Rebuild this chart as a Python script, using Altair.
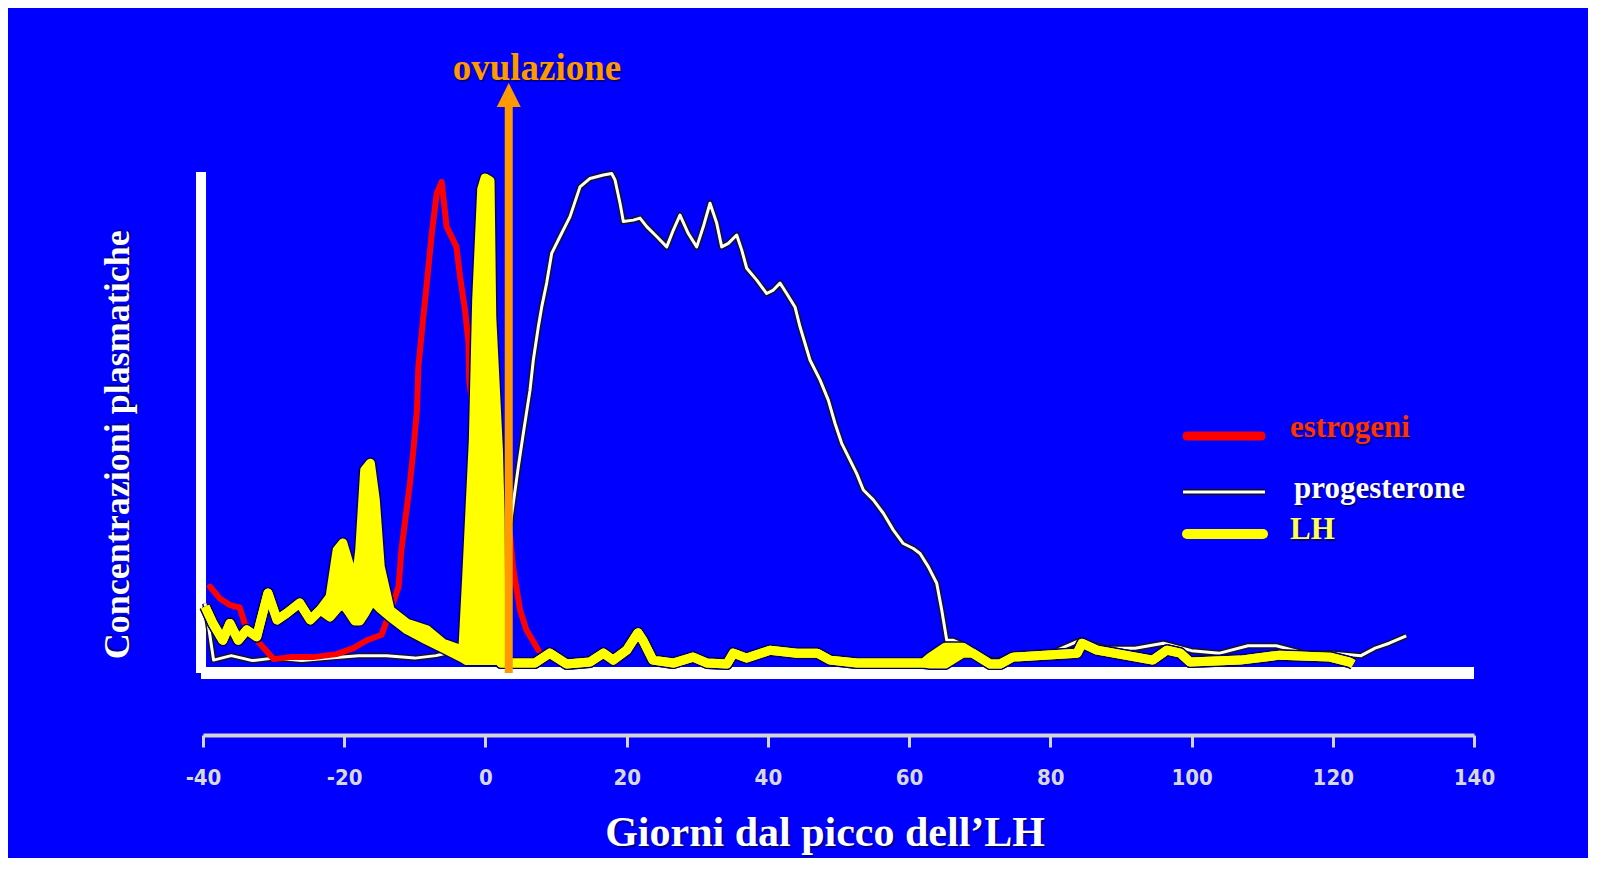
import altair as alt
import pandas as pd

# ---------------- data ----------------
x_ticks = [-40, -20, 0, 20, 40, 60, 80, 100, 120, 140]

est_day = [-39.0, -37.6, -36.2, -34.8, -34.1, -32.0, -30.0, -27.7, -24.4, -21.1,
           -18.7, -16.8, -14.7, -12.3, -11.9, -10.7, -10.2, -9.7, -9.5, -8.8,
           -8.3, -7.6, -6.9, -6.2, -5.5, -4.1, -3.6, -2.9, -2.4, -2.3,
           -1.8, 1.0, 2.5, 3.5, 3.9, 4.9, 5.8, 7.5]
est_val = [16.4, 14.0, 12.7, 12.2, 9.0, 5.0, 1.8, 2.2, 2.2, 2.8,
           4.0, 5.6, 6.7, 16.4, 23.8, 37.2, 44.0, 52.0, 60.7, 70.8,
           77.6, 87.6, 95.7, 98.0, 89.0, 84.9, 78.9, 72.2, 65.5, 58.1,
           52.0, 40.0, 32.5, 26.5, 20.4, 11.7, 7.7, 3.6]

prog_day = [-39.7, -38.5, -36, -33, -30, -26, -22, -18, -14, -10,
            -7, -4, -2, -0.8, 0.2, 2.06, 3.48, 4.66, 5.36, 6.31,
            6.78, 7.49, 7.97, 8.67, 9.38, 10.56, 11.98, 13.39, 14.81, 16.7,
            17.88, 18.35, 19.06, 19.53, 20.94, 21.89, 22.84, 24.25, 25.67, 26.61,
            27.55, 28.73, 29.92, 30.86, 31.8, 32.75, 33.46, 34.4, 35.58, 36.29,
            37.0, 38.42, 39.83, 40.77, 41.72, 42.66, 43.84, 44.55, 45.96, 47.38,
            48.56, 49.51, 50.45, 51.63, 52.58, 53.52, 54.93, 56.35, 57.77, 59.18,
            60.6, 61.55, 62.73, 63.91, 64.62, 65.33, 66.26, 68, 70, 72,
            76, 80, 84, 88, 92, 96, 100, 104, 108, 112,
            116, 120, 124, 126, 128, 130.4]
prog_val = [13.0, 1.6, 2.5, 1.5, 2.0, 1.5, 2.0, 2.5, 2.5, 2.0,
            2.5, 3.5, 5.0, 8.3, 13.7, 21.8, 28.5, 40.6, 47.3, 56.0,
            62.1, 68.8, 72.8, 77.6, 83.6, 87.0, 91.0, 97.0, 98.7, 99.4,
            99.7, 98.4, 93.7, 90.0, 90.3, 90.7, 89.0, 87.0, 84.9, 88.3,
            91.3, 87.6, 84.9, 89.0, 93.7, 89.7, 84.9, 85.6, 87.3, 84.3,
            80.6, 78.2, 75.5, 76.2, 77.6, 75.5, 72.8, 68.8, 62.1, 58.1,
            54.0, 49.3, 45.3, 41.9, 39.2, 35.9, 33.9, 31.2, 27.8, 25.1,
            24.1, 23.1, 20.4, 17.1, 11.7, 5.6, 5.6, 4.5, 2.5, 1.5,
            2.5, 3.0, 5.5, 4.0, 4.0, 5.0, 3.5, 3.0, 4.5, 4.5,
            3.0, 3.0, 2.5, 4.0, 5.0, 6.5]

lh_day = [-39.7, -38.6, -37.2, -36.2, -35.0, -33.8, -32.4, -30.8, -29.5, -28.1,
          -26.3, -24.8, -23.4, -22.0, -21.0, -20.2, -19.2, -18.5, -17.8, -17.1,
          -16.3, -15.6, -14.9, -13.5, -11.1, -8.3, -6.0, -3.2, -2.65, -1.71,
          -1.24, -0.53, -0.06, 0.65, 0.89, 1.84, 2.08, 2.2, 5.0, 7.0,
          9.1, 11.5, 14.8, 16.7, 18.1, 20.0, 21.6, 22.3, 23.7, 26.6,
          29.4, 31.4, 34.2, 35.1, 37.0, 40.3, 44.1, 47.0, 48.8, 52.6,
          58.3, 62.0, 63.0, 65.1, 67.6, 69.0, 71.5, 72.9, 74.7, 83.8,
          84.5, 86.6, 94.5, 96.5, 98.4, 99.8, 106.9, 112.5, 119.6, 122.4,
          122.9]
lh_hi = [12.4, 9.0, 5.6, 9.0, 5.6, 7.7, 6.3, 15.1, 9.7, 11.1,
         13.1, 9.7, 11.7, 14.4, 23.8, 25.2, 20.4, 15.1, 23.8, 39.9,
         41.3, 33.9, 20.4, 11.7, 9.0, 7.7, 5.0, 3.6, 18.4, 46.0,
         74.2, 96.5, 98.8, 98.2, 70.8, 43.9, 30.5, 1.0, 1.0, 1.0,
         3.0, 0.8, 1.2, 3.0, 1.6, 3.6, 7.1, 5.6, 1.6, 1.0,
         2.2, 1.0, 0.8, 3.0, 2.0, 3.6, 3.0, 3.0, 1.6, 1.0,
         1.0, 1.0, 2.2, 4.2, 4.2, 3.0, 0.8, 0.8, 2.2, 3.0,
         5.0, 3.6, 1.6, 3.6, 3.0, 1.2, 1.6, 2.6, 2.2, 1.2,
         0.8]
lh_lo = [12.4, 9.0, 5.6, 9.0, 5.6, 7.7, 6.3, 15.1, 9.7, 11.1,
         13.1, 9.7, 11.7, 10.3, 12.0, 13.0, 11.0, 9.5, 9.5, 11.0,
         13.0, 13.0, 12.0, 10.3, 7.7, 5.6, 4.0, 2.0, 1.5, 1.5,
         1.5, 1.5, 1.5, 1.5, 1.5, 1.5, 1.5, 1.0, 1.0, 1.0,
         3.0, 0.8, 1.2, 3.0, 1.6, 3.6, 7.1, 5.6, 1.6, 1.0,
         2.2, 1.0, 0.8, 3.0, 2.0, 3.6, 3.0, 3.0, 1.6, 1.0,
         1.0, 1.0, 0.8, 0.8, 3.0, 3.0, 0.8, 0.8, 2.2, 3.0,
         5.0, 3.6, 1.6, 3.6, 3.0, 1.2, 1.6, 2.6, 2.2, 1.2,
         0.8]

ovulation_day = 3.3

# annotation / legend positions (in data units)
title_labels = ["ovulazione", "Concentrazioni plasmatiche", "Giorni dal picco dell\u2019LH"]
title_day = [7.3, -52.0, 48.1]
title_val = [118.5, 45.0, -35.9]

legend_names = ["estrogeni", "progesterone", "LH"]
legend_colors = ["#ff3300", "#ffffff", "#ffff55"]
legend_text_day = [113.94, 114.51, 113.94]
legend_text_val = [46.57, 34.27, 26.01]
legend_line_start = [99.36, 98.79, 99.36]
legend_line_end = [109.84, 110.40, 110.12]
legend_line_val = [46.77, 35.48, 27.02]

# ---------------- styling ----------------
SERIF = "Liberation Serif, Times New Roman, serif"
NAVY = "#00006e"
ORANGE = "#ff9900"
BLUE = "#0000ff"

xscale = alt.Scale(domain=[-40, 140], nice=False, zero=False)
yscale = alt.Scale(domain=[-13.5, 100], nice=False, zero=False)
xaxis = alt.Axis(values=x_ticks, labelExpr="'' + datum.value", title=None, grid=False,
                 domainColor="#d4d4d4", domainWidth=4, tickColor="#d4d4d4", tickWidth=3,
                 tickSize=12, labelColor="#d8d8d8",
                 labelFont="Liberation Sans Narrow, DejaVu Sans Condensed, sans-serif",
                 labelFontSize=22, labelFontWeight="bold", labelPadding=20,
                 labelFlush=False)


def X(field="day"):
    return alt.X(f"{field}:Q", scale=xscale, axis=xaxis)


def Y(field="val"):
    return alt.Y(f"{field}:Q", scale=yscale, axis=None)


est = pd.DataFrame({"day": est_day, "val": est_val})
prog = pd.DataFrame({"day": prog_day, "val": prog_val})
lh = pd.DataFrame({"day": lh_day, "hi": lh_hi, "lo": lh_lo})

# frame: left white axis bar and thick white baseline
yaxis_bar = alt.Chart(pd.DataFrame({"day": [-40.28], "val": [-1.0], "val2": [100.0]})).mark_rule(
    color="white", strokeWidth=10).encode(x=X(), y=Y(), y2=alt.Y2("val2"))
baseline = alt.Chart(pd.DataFrame({"day": [-40.28], "day2": [140.0], "val": [-1.0]})).mark_rule(
    color="white", strokeWidth=12).encode(x=X(), x2=alt.X2("day2"), y=Y())

prog_out = alt.Chart(prog).mark_line(color="#151515", strokeWidth=6, strokeJoin="round").encode(x=X(), y=Y())
prog_line = alt.Chart(prog).mark_line(color="#ffffff", strokeWidth=3, strokeJoin="round").encode(x=X(), y=Y())

est_line = alt.Chart(est).mark_line(color="#ff0000", strokeWidth=6, strokeJoin="round",
                                    strokeCap="round").encode(x=X(), y=Y())

lh_out_hi = alt.Chart(lh).mark_line(color=NAVY, strokeWidth=12, strokeJoin="round").encode(x=X(), y=Y("hi"))
lh_out_lo = alt.Chart(lh).mark_line(color=NAVY, strokeWidth=12, strokeJoin="round").encode(x=X(), y=Y("lo"))
lh_fill = alt.Chart(lh).mark_area(color="#ffff00", opacity=1).encode(x=X(), y=Y("hi"), y2=alt.Y2("lo"))
lh_hi_line = alt.Chart(lh).mark_line(color="#ffff00", strokeWidth=9, strokeJoin="round").encode(x=X(), y=Y("hi"))
lh_lo_line = alt.Chart(lh).mark_line(color="#ffff00", strokeWidth=9, strokeJoin="round").encode(x=X(), y=Y("lo"))

# ovulation arrow
arrow_shaft = alt.Chart(pd.DataFrame({"day": [ovulation_day], "val": [-1.0], "val2": [113.1]})).mark_rule(
    color=ORANGE, strokeWidth=8).encode(x=X(), y=Y(), y2=alt.Y2("val2"))
arrow_head = alt.Chart(pd.DataFrame({"day": [ovulation_day], "val": [115.5]})).mark_point(
    shape="M0,-1L-1,1L1,1Z", size=576, filled=True, color=ORANGE, opacity=1, strokeWidth=0
).encode(x=X(), y=Y())

titles = pd.DataFrame({"label": title_labels, "day": title_day, "val": title_val})


def text_layer(df, size, color, dx=0, dy=0, angle=0, align="center", baseline="alphabetic", colorfield=False):
    kw = dict(font=SERIF, fontWeight="bold", fontSize=size, align=align, baseline=baseline,
              dx=dx, dy=dy)
    if angle:
        kw["angle"] = angle
    if not colorfield:
        kw["color"] = color
    enc = dict(x=X(), y=Y(), text="label:N")
    if colorfield:
        enc["color"] = alt.Color("col:N", scale=None)
    return alt.Chart(df).mark_text(**kw).encode(**enc)


SH = "#000090"
ovu = titles.iloc[[0]]
ytit = titles.iloc[[1]]
xtit = titles.iloc[[2]]
text_layers = [
    text_layer(ovu, 37, SH, dx=2, dy=2),
    text_layer(ovu, 37, ORANGE),
    text_layer(ytit, 36, SH, dx=2, dy=2, angle=270, baseline="middle"),
    text_layer(ytit, 36, "white", angle=270, baseline="middle"),
    text_layer(xtit, 42, SH, dx=2, dy=2),
    text_layer(xtit, 42, "white"),
]

leg_text = pd.DataFrame({"label": legend_names, "day": legend_text_day, "val": legend_text_val,
                         "col": legend_colors})
leg_shadow = leg_text.assign(col=SH)
legend_text_layers = [
    text_layer(leg_shadow, 31, None, dx=2, dy=2, align="left", colorfield=True),
    text_layer(leg_text, 31, None, align="left", colorfield=True),
]

leg_rows = []
for i, n in enumerate(legend_names):
    leg_rows.append({"name": n, "day": legend_line_start[i], "val": legend_line_val[i]})
    leg_rows.append({"name": n, "day": legend_line_end[i], "val": legend_line_val[i]})
leg_lines = pd.DataFrame(leg_rows)

leg_est = alt.Chart(leg_lines[leg_lines.name == "estrogeni"]).mark_line(
    color="#ff0000", strokeWidth=9, strokeCap="round").encode(x=X(), y=Y())
leg_prog_out = alt.Chart(leg_lines[leg_lines.name == "progesterone"]).mark_line(
    color="#111111", strokeWidth=6).encode(x=X(), y=Y())
leg_prog = alt.Chart(leg_lines[leg_lines.name == "progesterone"]).mark_line(
    color="#ffffff", strokeWidth=3).encode(x=X(), y=Y())
leg_lh = alt.Chart(leg_lines[leg_lines.name == "LH"]).mark_line(
    color="#ffff00", strokeWidth=10, strokeCap="round").encode(x=X(), y=Y())

chart = alt.layer(
    baseline, yaxis_bar,
    prog_out, prog_line,
    est_line,
    lh_out_hi, lh_out_lo, lh_fill, lh_hi_line, lh_lo_line,
    arrow_shaft, arrow_head,
    *text_layers,
    leg_est, leg_prog_out, leg_prog, leg_lh,
    *legend_text_layers,
).properties(
    width=1271, height=563, background=BLUE,
    padding={"left": 195, "top": 164, "right": 114, "bottom": 123},
    autosize=alt.AutoSizeParams(type="none"),
).configure_view(stroke=None)

chart.save("out.html", embed_options={"renderer": "svg", "actions": False})
